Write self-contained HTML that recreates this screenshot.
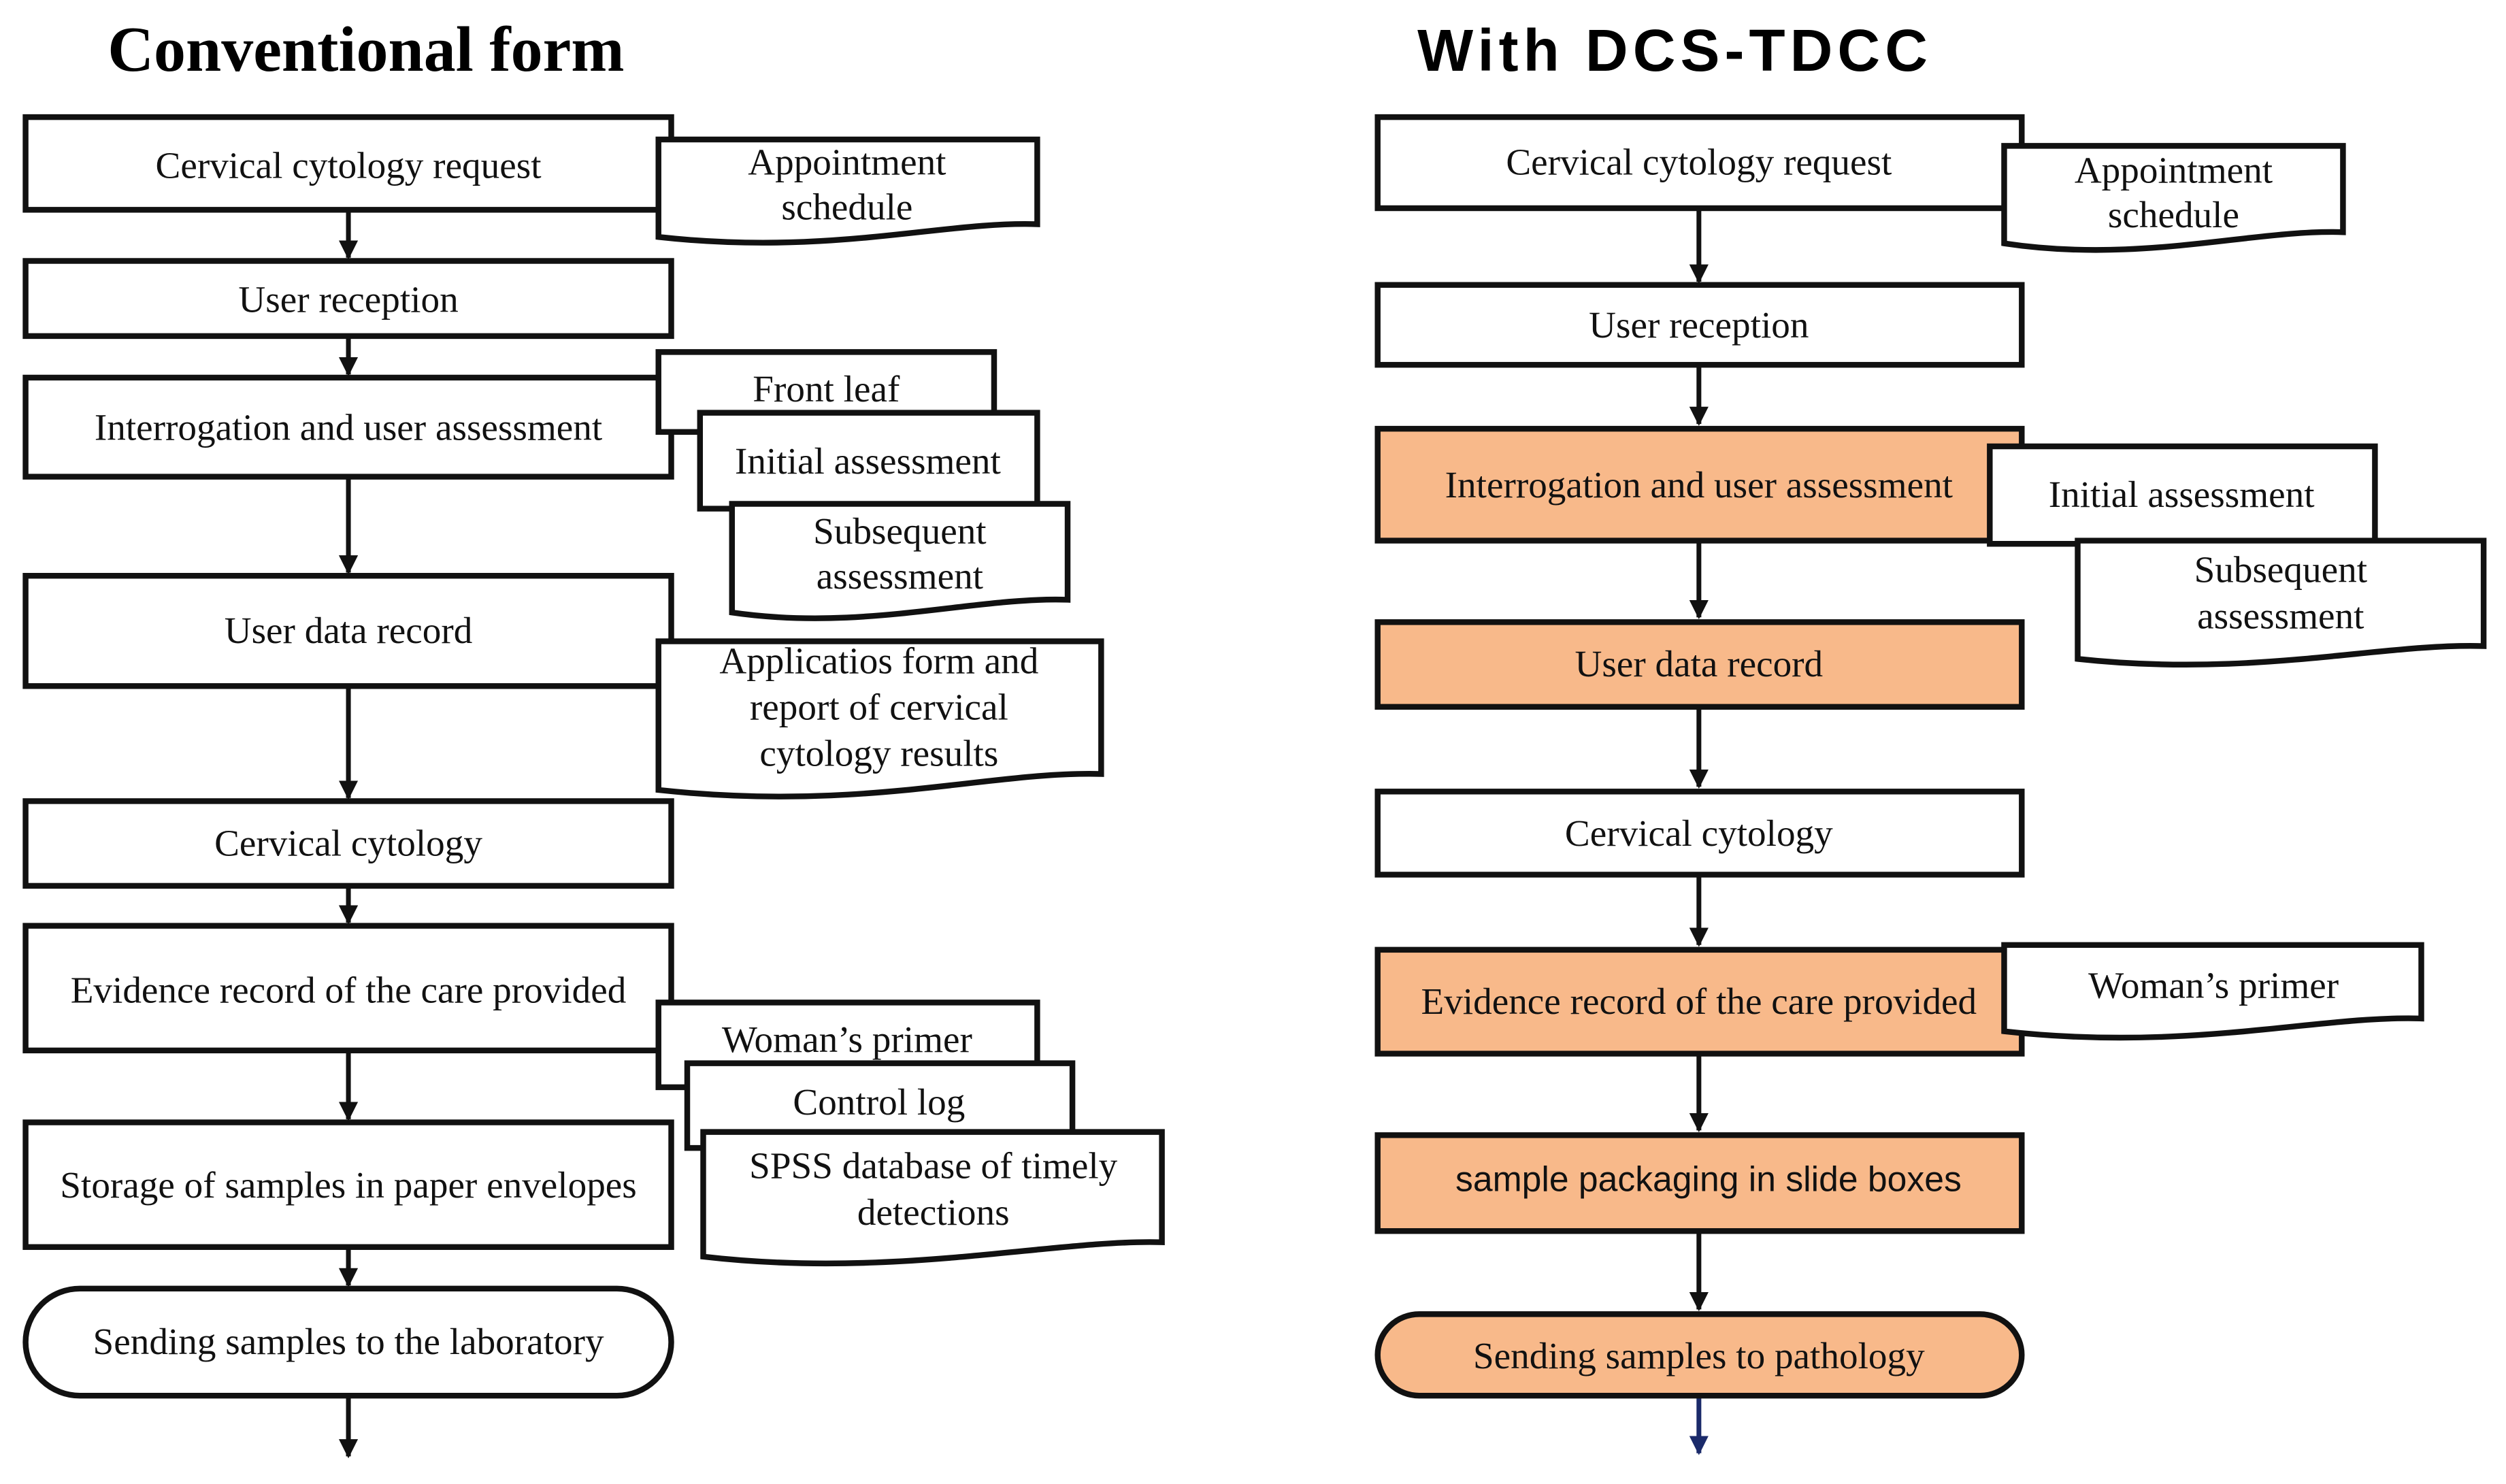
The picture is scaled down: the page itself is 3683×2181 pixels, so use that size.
<!DOCTYPE html>
<html><head><meta charset="utf-8"><style>
html,body{margin:0;padding:0;background:#fff;}
svg{display:block;}
.s{font-family:"Liberation Serif",serif;font-size:23.5px;fill:#111;text-anchor:middle;}
.b{fill:#fff;stroke:#111;stroke-width:3.6;}
.o{fill:#f8b98a;stroke:#111;stroke-width:3.6;}
.l{stroke:#111;stroke-width:3;}
</style></head><body>
<svg width="3683" height="2181" viewBox="0 0 1568 928" xmlns="http://www.w3.org/2000/svg">
<defs>
<marker id="a" viewBox="0 0 10 10" refX="9" refY="5" markerWidth="4" markerHeight="4" orient="auto"><path d="M0,0 L10,5 L0,10 z" fill="#111"/></marker>
<marker id="ab" viewBox="0 0 10 10" refX="9" refY="5" markerWidth="4" markerHeight="4" orient="auto"><path d="M0,0 L10,5 L0,10 z" fill="#1a2a6a"/></marker>
</defs>
<text x="229" y="44" style="font-family:'Liberation Serif',serif;font-weight:bold;font-size:40px;text-anchor:middle">Conventional form</text>
<text x="1048" y="44" style="font-family:'Liberation Sans',sans-serif;font-weight:bold;font-size:37px;letter-spacing:3px;text-anchor:middle">With DCS-TDCC</text>

<g class="l" marker-end="url(#a)">
<line x1="218" y1="131" x2="218" y2="161"/>
<line x1="218" y1="210" x2="218" y2="234"/>
<line x1="218" y1="298" x2="218" y2="358"/>
<line x1="218" y1="429" x2="218" y2="499"/>
<line x1="218" y1="554" x2="218" y2="577"/>
<line x1="218" y1="657" x2="218" y2="700"/>
<line x1="218" y1="780" x2="218" y2="804"/>
<line x1="218" y1="873" x2="218" y2="911"/>
</g>
<rect class="b" x="16" y="73" width="404" height="58"/>
<rect class="b" x="16" y="163" width="404" height="47"/>
<rect class="b" x="16" y="236" width="404" height="62"/>
<rect class="b" x="16" y="360" width="404" height="69"/>
<rect class="b" x="16" y="501" width="404" height="53"/>
<rect class="b" x="16" y="579" width="404" height="78"/>
<rect class="b" x="16" y="702" width="404" height="78"/>
<rect class="b" x="16" y="806" width="404" height="67" rx="34"/>
<text class="s" x="218" y="111">Cervical cytology request</text>
<text class="s" x="218" y="195">User reception</text>
<text class="s" x="218" y="275">Interrogation and user assessment</text>
<text class="s" x="218" y="402">User data record</text>
<text class="s" x="218" y="535">Cervical cytology</text>
<text class="s" x="218" y="627">Evidence record of the care provided</text>
<text class="s" x="218" y="749">Storage of samples in paper envelopes</text>
<text class="s" x="218" y="847">Sending samples to the laboratory</text>
<path class="b" d="M412,87 H649 V140 C590,138 520,160 412,148 Z"/>
<text class="s" x="530" y="109">Appointment</text><text class="s" x="530" y="137">schedule</text>
<path class="b" d="M412,220 H622 V270 H412 Z"/>
<text class="s" x="517" y="251">Front leaf</text>
<path class="b" d="M438,258 H649 V318 H438 Z"/>
<text class="s" x="543" y="296">Initial assessment</text>
<path class="b" d="M458,315 H668 V375 C610,373 540,395 458,383 Z"/>
<text class="s" x="563" y="340">Subsequent</text><text class="s" x="563" y="368">assessment</text>
<path class="b" d="M412,401 H689 V484 C620,482 540,508 412,494 Z"/>
<text class="s" x="550" y="421">Applicatios form and</text><text class="s" x="550" y="450">report of cervical</text><text class="s" x="550" y="479">cytology results</text>
<path class="b" d="M412,627 H649 V680 H412 Z"/>
<text class="s" x="530" y="658">Woman’s primer</text>
<path class="b" d="M430,665 H671 V718 H430 Z"/>
<text class="s" x="550" y="697">Control log</text>
<path class="b" d="M440,708 H727 V777 C660,775 560,800 440,786 Z"/>
<text class="s" x="584" y="737">SPSS database of timely</text><text class="s" x="584" y="766">detections</text>

<g class="l" marker-end="url(#a)">
<line x1="1063" y1="130" x2="1063" y2="176"/>
<line x1="1063" y1="228" x2="1063" y2="265"/>
<line x1="1063" y1="338" x2="1063" y2="386"/>
<line x1="1063" y1="442" x2="1063" y2="492"/>
<line x1="1063" y1="547" x2="1063" y2="591"/>
<line x1="1063" y1="659" x2="1063" y2="707"/>
<line x1="1063" y1="770" x2="1063" y2="819"/>
</g>
<line x1="1063" y1="873" x2="1063" y2="909" stroke="#1a2a6a" stroke-width="3" marker-end="url(#ab)"/>
<rect class="b" x="862" y="73" width="403" height="57"/>
<rect class="b" x="862" y="178" width="403" height="50"/>
<rect class="o" x="862" y="268" width="403" height="70"/>
<rect class="o" x="862" y="389" width="403" height="53"/>
<rect class="b" x="862" y="495" width="403" height="52"/>
<rect class="o" x="862" y="594" width="403" height="65"/>
<rect class="o" x="862" y="710" width="403" height="60"/>
<rect class="o" x="862" y="822" width="403" height="51" rx="26"/>
<text class="s" x="1063" y="109">Cervical cytology request</text>
<text class="s" x="1063" y="211">User reception</text>
<text class="s" x="1063" y="311">Interrogation and user assessment</text>
<text class="s" x="1063" y="423">User data record</text>
<text class="s" x="1063" y="529">Cervical cytology</text>
<text class="s" x="1063" y="634">Evidence record of the care provided</text>
<text x="1069" y="745" style="font-family:'Liberation Sans',sans-serif;font-size:22px;text-anchor:middle;fill:#111">sample packaging in slide boxes</text>
<text class="s" x="1063" y="856">Sending samples to pathology</text>
<path class="b" d="M1254,91 H1466 V145 C1410,143 1340,165 1254,152 Z"/>
<text class="s" x="1360" y="114">Appointment</text><text class="s" x="1360" y="142">schedule</text>
<path class="b" d="M1245,279 H1486 V340 H1245 Z"/>
<text class="s" x="1365" y="317">Initial assessment</text>
<path class="b" d="M1300,338 H1554 V404 C1490,402 1410,424 1300,412 Z"/>
<text class="s" x="1427" y="364">Subsequent</text><text class="s" x="1427" y="393">assessment</text>
<path class="b" d="M1254,591 H1515 V637 C1450,635 1370,658 1254,645 Z"/>
<text class="s" x="1385" y="624">Woman’s primer</text>
</svg>
</body></html>
